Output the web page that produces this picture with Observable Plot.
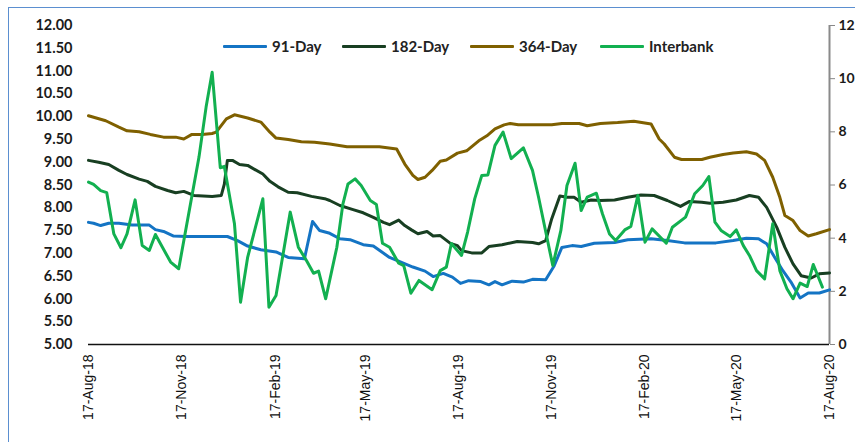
<!DOCTYPE html>
<html>
<head>
<meta charset="utf-8">
<script src="https://cdn.jsdelivr.net/npm/d3@7"></script>
<script src="https://cdn.jsdelivr.net/npm/@observablehq/plot@0.6"></script>
<style>
  html, body { margin: 0; padding: 0; background: #fff; }
  #wrap { position: relative; width: 855px; height: 442px; overflow: hidden; }
  #frame { position: absolute; left: 8px; top: 7px; right: -4px; bottom: -4px;
           border-left: 1.5px solid #5b8fd0; border-top: 1.5px solid #5b8fd0; pointer-events: none; }
  .legend { position: absolute; top: 35px; font: bold 15px Lato, "Open Sans", sans-serif; color: #222; }
  .legend span.sw { display: inline-block; width: 44px; height: 3px; vertical-align: middle; margin-right: 5px; border-radius: 1px; }
  .legend span.lb { vertical-align: middle; }
</style>
</head>
<body>
<div id="wrap">
  <div id="chart"></div>
  <div id="frame"></div>
</div>
<script>
// Treasury bill yields (%, left axis)
const bill91 = [
  ["2018-08-17",7.68],["2018-08-22",7.66],["2018-08-29",7.61],["2018-09-06",7.66],["2018-09-16",7.66],
  ["2018-09-29",7.62],["2018-10-16",7.62],["2018-10-22",7.52],["2018-10-30",7.48],["2018-11-09",7.38],
  ["2018-11-21",7.37],["2019-01-01",7.37],["2019-01-11",7.28],["2019-01-21",7.16],["2019-02-03",7.08],
  ["2019-02-18",7.03],["2019-03-02",6.91],["2019-03-18",6.88],["2019-03-26",7.70],["2019-04-02",7.50],
  ["2019-04-12",7.44],["2019-04-22",7.32],["2019-05-02",7.30],["2019-05-15",7.19],["2019-05-25",7.16],
  ["2019-06-10",6.91],["2019-07-03",6.70],["2019-07-15",6.61],["2019-07-23",6.49],["2019-08-02",6.56],
  ["2019-08-11",6.48],["2019-08-19",6.34],["2019-08-27",6.40],["2019-09-08",6.38],["2019-09-16",6.31],
  ["2019-09-22",6.38],["2019-09-29",6.31],["2019-10-09",6.39],["2019-10-20",6.37],["2019-10-29",6.43],
  ["2019-11-11",6.42],["2019-11-19",6.71],["2019-11-27",7.13],["2019-12-07",7.17],["2019-12-16",7.15],
  ["2019-12-29",7.22],["2020-01-18",7.24],["2020-01-31",7.30],["2020-02-23",7.32],["2020-03-10",7.28],
  ["2020-03-27",7.23],["2020-04-27",7.23],["2020-05-14",7.28],["2020-05-27",7.33],["2020-06-08",7.32],
  ["2020-06-16",7.21],["2020-06-24",6.91],["2020-07-02",6.62],["2020-07-10",6.37],["2020-07-19",6.02],
  ["2020-07-27",6.13],["2020-08-07",6.13],["2020-08-17",6.20]
];

const bill182 = [
  ["2018-08-17",9.04],["2018-08-27",9.00],["2018-09-06",8.95],["2018-09-16",8.82],["2018-09-24",8.73],
  ["2018-10-06",8.63],["2018-10-14",8.58],["2018-10-22",8.47],["2018-11-03",8.38],["2018-11-11",8.33],
  ["2018-11-19",8.36],["2018-11-29",8.27],["2018-12-17",8.25],["2018-12-26",8.27],["2018-12-29",8.52],
  ["2019-01-01",9.04],["2019-01-06",9.04],["2019-01-13",8.95],["2019-01-21",8.93],["2019-02-05",8.74],
  ["2019-02-12",8.58],["2019-02-20",8.46],["2019-03-02",8.34],["2019-03-11",8.33],["2019-03-25",8.25],
  ["2019-04-07",8.20],["2019-04-12",8.16],["2019-04-22",8.05],["2019-05-05",7.96],["2019-05-15",7.89],
  ["2019-05-25",7.79],["2019-06-04",7.68],["2019-06-10",7.63],["2019-06-19",7.73],["2019-06-25",7.61],
  ["2019-07-02",7.51],["2019-07-08",7.43],["2019-07-17",7.48],["2019-07-23",7.38],["2019-07-30",7.39],
  ["2019-08-09",7.22],["2019-08-16",7.17],["2019-08-20",7.06],["2019-08-30",7.01],["2019-09-09",7.01],
  ["2019-09-16",7.15],["2019-09-29",7.19],["2019-10-14",7.26],["2019-10-29",7.24],["2019-11-04",7.21],
  ["2019-11-11",7.28],["2019-11-17",7.76],["2019-11-25",8.26],["2019-12-02",8.23],["2019-12-09",8.23],
  ["2019-12-16",8.12],["2019-12-26",8.17],["2020-01-04",8.16],["2020-01-18",8.17],["2020-01-31",8.23],
  ["2020-02-13",8.28],["2020-02-26",8.27],["2020-03-10",8.16],["2020-03-23",8.03],["2020-04-01",8.14],
  ["2020-04-13",8.12],["2020-04-21",8.10],["2020-05-04",8.12],["2020-05-17",8.17],["2020-05-30",8.27],
  ["2020-06-08",8.23],["2020-06-16",8.01],["2020-06-26",7.57],["2020-07-04",7.13],["2020-07-12",6.77],
  ["2020-07-20",6.51],["2020-07-30",6.46],["2020-08-07",6.55],["2020-08-17",6.57]
];

const bill364 = [
  ["2018-08-17",10.02],["2018-09-03",9.91],["2018-09-16",9.77],["2018-09-24",9.69],["2018-10-06",9.67],
  ["2018-10-17",9.61],["2018-10-30",9.55],["2018-11-11",9.55],["2018-11-19",9.51],["2018-11-27",9.61],
  ["2018-12-07",9.61],["2018-12-17",9.63],["2018-12-21",9.66],["2018-12-31",9.95],["2019-01-08",10.04],
  ["2019-01-21",9.97],["2019-02-03",9.88],["2019-02-12",9.66],["2019-02-18",9.53],["2019-03-02",9.50],
  ["2019-03-15",9.45],["2019-03-28",9.44],["2019-04-12",9.40],["2019-04-29",9.34],["2019-05-31",9.34],
  ["2019-06-17",9.29],["2019-06-25",8.96],["2019-07-03",8.71],["2019-07-08",8.62],["2019-07-15",8.67],
  ["2019-07-22",8.82],["2019-07-30",9.02],["2019-08-05",9.05],["2019-08-16",9.20],["2019-08-25",9.25],
  ["2019-09-06",9.47],["2019-09-14",9.58],["2019-09-22",9.73],["2019-10-01",9.82],["2019-10-07",9.85],
  ["2019-10-15",9.82],["2019-11-17",9.82],["2019-11-27",9.85],["2019-12-14",9.85],["2019-12-22",9.80],
  ["2020-01-04",9.85],["2020-01-21",9.87],["2020-02-06",9.90],["2020-02-23",9.84],["2020-03-02",9.51],
  ["2020-03-07",9.40],["2020-03-17",9.11],["2020-03-24",9.06],["2020-04-13",9.06],["2020-04-21",9.11],
  ["2020-05-04",9.17],["2020-05-14",9.20],["2020-05-27",9.23],["2020-06-06",9.18],["2020-06-14",9.04],
  ["2020-06-22",8.67],["2020-06-29",8.23],["2020-07-04",7.83],["2020-07-12",7.72],["2020-07-19",7.50],
  ["2020-07-27",7.38],["2020-08-04",7.43],["2020-08-17",7.52]
];

// Interbank rate (%, right axis)
const interbank = [
  ["2018-08-17",6.11],["2018-08-22",6.02],["2018-08-29",5.79],["2018-09-04",5.71],["2018-09-11",4.16],
  ["2018-09-18",3.64],["2018-09-24",4.16],["2018-10-02",5.44],["2018-10-09",3.72],["2018-10-16",3.54],
  ["2018-10-22",4.14],["2018-11-06",3.10],["2018-11-14",2.85],["2018-12-04",7.05],["2018-12-11",8.93],
  ["2018-12-17",10.24],["2018-12-25",6.65],["2018-12-29",6.70],["2019-01-08",4.54],["2019-01-14",1.59],
  ["2019-01-21",3.28],["2019-02-05",5.48],["2019-02-11",1.40],["2019-02-18",1.84],["2019-03-04",4.98],
  ["2019-03-12",3.66],["2019-03-20",3.16],["2019-03-27",2.68],["2019-04-01",2.76],["2019-04-08",1.72],
  ["2019-04-19",3.66],["2019-04-25",5.29],["2019-04-30",6.04],["2019-05-07",6.23],["2019-05-13",5.98],
  ["2019-05-22",5.42],["2019-05-28",5.27],["2019-06-03",3.81],["2019-06-10",3.66],["2019-06-19",3.06],
  ["2019-06-24",2.97],["2019-07-01",1.93],["2019-07-09",2.41],["2019-07-22",2.06],["2019-07-30",2.78],
  ["2019-08-05",2.91],["2019-08-10",3.80],["2019-08-20",3.35],["2019-08-26",4.23],["2019-09-02",5.48],
  ["2019-09-09",6.36],["2019-09-15",6.38],["2019-09-22",7.49],["2019-09-30",7.99],["2019-10-08",6.99],
  ["2019-10-20",7.40],["2019-10-29",6.55],["2019-11-04",5.54],["2019-11-18",2.97],["2019-11-26",4.29],
  ["2019-12-02",5.98],["2019-12-10",6.82],["2019-12-16",5.04],["2019-12-22",5.54],["2019-12-31",5.69],
  ["2020-01-06",4.92],["2020-01-13",4.16],["2020-01-19",3.91],["2020-01-28",4.31],["2020-02-03",4.44],
  ["2020-02-10",5.61],["2020-02-17",3.85],["2020-02-24",4.35],["2020-03-09",3.81],["2020-03-15",4.41],
  ["2020-03-28",4.79],["2020-04-06",5.67],["2020-04-14",5.98],["2020-04-20",6.32],["2020-04-26",4.60],
  ["2020-05-02",4.29],["2020-05-11",4.06],["2020-05-17",4.31],["2020-05-24",3.72],["2020-05-30",3.35],
  ["2020-06-06",2.78],["2020-06-14",2.47],["2020-06-22",4.54],["2020-06-29",2.78],["2020-07-06",2.10],
  ["2020-07-12",1.72],["2020-07-19",2.31],["2020-07-26",2.18],["2020-08-01",3.01],["2020-08-10",2.16]
];

const seriesNames = ["91-Day", "182-Day", "364-Day", "Interbank"];
const seriesColors = ["#1474c4", "#183f22", "#7f6000", "#12b050"];
const xTicks = ["2018-08-17","2018-11-17","2019-02-17","2019-05-17","2019-08-17",
                "2019-11-17","2020-02-17","2020-05-17","2020-08-17"];
const leftTicks = d3.range(5, 12.01, 0.5);
const rightTicks = [0, 2, 4, 6, 8, 10, 12];

// Left axis spans 5–12 %, right axis spans 0–12 %
const leftMin = 5, leftMax = 12, rightMax = 12;
const toLeft = v => leftMin + v * (leftMax - leftMin) / rightMax;

const parse = s => new Date(s + "T00:00:00Z");
const rows = (arr) => arr.map(([d, v]) => ({date: parse(d), value: v}));

const start = parse("2018-08-17"), end = parse("2020-08-17");

const chart = Plot.plot({
  width: 855,
  height: 442,
  marginTop: 25,
  marginBottom: 98,
  marginLeft: 88,
  marginRight: 26,
  style: {fontFamily: "Lato, 'Open Sans', sans-serif", background: "transparent"},
  x: {type: "utc", domain: [start, end], label: null},
  y: {domain: [leftMin, leftMax], label: null},
  marks: [
    Plot.axisY(leftTicks, {
      anchor: "left", tickSize: 0, tickPadding: 16, label: null,
      tickFormat: d3.format(".2f"), fontSize: 14.5, fontWeight: "bold", fill: "#1a1a1a"
    }),
    Plot.axisY(rightTicks.map(toLeft), {
      anchor: "right", tickSize: 5, tickPadding: 4, stroke: "#888", label: null,
      tickFormat: t => String(Math.round((t - leftMin) * rightMax / (leftMax - leftMin))),
      fontSize: 14, fontWeight: "bold", fill: "#1a1a1a"
    }),
    Plot.ruleX([end], {stroke: "#8a8a8a", strokeWidth: 2}),
    Plot.axisX(xTicks.map(parse), {
      anchor: "bottom", tickSize: 0, tickPadding: 10, tickRotate: -90, label: null,
      tickFormat: d3.utcFormat("%d-%b-%y"), fontSize: 14,
      fontFamily: "'Liberation Sans', Arial, sans-serif", fill: "#111"
    }),
    Plot.ruleY([leftMin], {stroke: "#111", strokeWidth: 1.5}),
    Plot.line(rows(bill364), {x: "date", y: "value", stroke: seriesColors[2], strokeWidth: 3}),
    Plot.line(rows(bill182), {x: "date", y: "value", stroke: seriesColors[1], strokeWidth: 3}),
    Plot.line(rows(bill91), {x: "date", y: "value", stroke: seriesColors[0], strokeWidth: 3}),
    Plot.line(rows(interbank), {x: "date", y: d => toLeft(d.value), stroke: seriesColors[3], strokeWidth: 3})
  ]
});
document.getElementById("chart").appendChild(chart);

// Legend across the top of the plot area
const legendLeft = [223, 342, 470, 600];
const wrap = document.getElementById("wrap");
seriesNames.forEach((name, i) => {
  const item = document.createElement("div");
  item.className = "legend";
  item.style.left = legendLeft[i] + "px";
  item.innerHTML = `<span class="sw" style="background:${seriesColors[i]}"></span><span class="lb">${name}</span>`;
  wrap.appendChild(item);
});
</script>
</body>
</html>
